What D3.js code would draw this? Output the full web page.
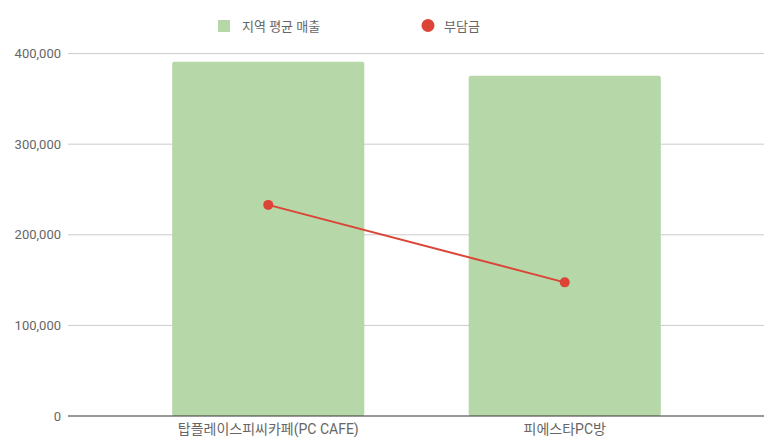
<!DOCTYPE html>
<html>
<head>
<meta charset="utf-8">
<script src="https://cdn.jsdelivr.net/npm/d3@7"></script>
<style>
  body { margin: 0; background: #fff; }
  text { font-family: Roboto, "Noto Sans CJK KR", sans-serif; }
</style>
</head>
<body>
<div class="board"></div>
<script>
(function() {

  var categories = ['탑플레이스피씨카페(PC CAFE)', '피에스타PC방'];
  var sales = [391000, 375500];
  var burden = [233000, 147500];
  var yTicks = [0, 100000, 200000, 300000, 400000];
  var seriesNames = ['지역 평균 매출', '부담금'];

  var options = { width: 773, height: 445 };

  var svg = d3.select('.board')
    .append('svg')
    .attr('width', options.width)
    .attr('height', options.height);

  var x = d3.scaleBand()
    .domain(categories)
    .range([120, 713])
    .paddingInner(0.352)
    .paddingOuter(0.176);

  var y = d3.scaleLinear()
    .domain([0, 400000])
    .range([416, 53.6]);

  // gridlines
  svg.selectAll('line.grid')
    .data(yTicks.slice(1))
    .enter()
    .append('line')
    .attr('class', 'grid')
    .attr('x1', 68)
    .attr('x2', 764)
    .attr('y1', function(d) { return y(d); })
    .attr('y2', function(d) { return y(d); })
    .style('stroke', '#cccccc')
    .style('stroke-width', 1);

  // y labels
  var fmt = d3.format(',');
  svg.selectAll('text.ytick')
    .data(yTicks)
    .enter()
    .append('text')
    .attr('class', 'ytick')
    .attr('x', 61)
    .attr('y', function(d) { return y(d) + 4.5; })
    .text(function(d) { return fmt(d); })
    .style('font-size', '13px')
    .style('fill', '#666')
    .style('text-anchor', 'end');

  // bars
  svg.selectAll('rect.bar')
    .data(sales)
    .enter()
    .append('rect')
    .attr('class', 'bar')
    .attr('x', function(d, i) { return x(categories[i]); })
    .attr('y', function(d) { return y(d); })
    .attr('width', x.bandwidth())
    .attr('height', function(d) { return y(0) - y(d); })
    .attr('rx', 2)
    .style('fill', '#b6d7a8');

  // baseline
  svg.append('line')
    .attr('x1', 68)
    .attr('x2', 764)
    .attr('y1', y(0))
    .attr('y2', y(0))
    .style('stroke', '#333333')
    .style('stroke-width', 1);

  // x labels
  svg.selectAll('text.xtick')
    .data(categories)
    .enter()
    .append('text')
    .attr('class', 'xtick')
    .attr('x', function(d) { return x(d) + x.bandwidth() / 2; })
    .attr('y', 434)
    .text(function(d) { return d; })
    .style('font-size', '14px')
    .style('fill', '#666')
    .style('text-anchor', 'middle');

  // line series
  var line = d3.line()
    .x(function(d, i) { return x(categories[i]) + x.bandwidth() / 2; })
    .y(function(d) { return y(d); });

  svg.append('path')
    .datum(burden)
    .attr('d', line)
    .style('fill', 'none')
    .style('stroke', '#db4437')
    .style('stroke-width', 2);

  svg.selectAll('circle.pt')
    .data(burden)
    .enter()
    .append('circle')
    .attr('class', 'pt')
    .attr('cx', function(d, i) { return x(categories[i]) + x.bandwidth() / 2; })
    .attr('cy', function(d) { return y(d); })
    .attr('r', 5)
    .style('fill', '#db4437');

  // legend
  var legend = svg.append('g');
  legend.append('rect')
    .attr('x', 218)
    .attr('y', 20)
    .attr('width', 12)
    .attr('height', 12)
    .style('fill', '#b6d7a8');
  legend.append('text')
    .attr('x', 242)
    .attr('y', 30.5)
    .text(seriesNames[0])
    .style('font-size', '13px')
    .style('fill', '#666');
  legend.append('circle')
    .attr('cx', 428)
    .attr('cy', 25.5)
    .attr('r', 6.5)
    .style('fill', '#db4437');
  legend.append('text')
    .attr('x', 444)
    .attr('y', 30.5)
    .text(seriesNames[1])
    .style('font-size', '13px')
    .style('fill', '#666');

})();
</script>
</body>
</html>
